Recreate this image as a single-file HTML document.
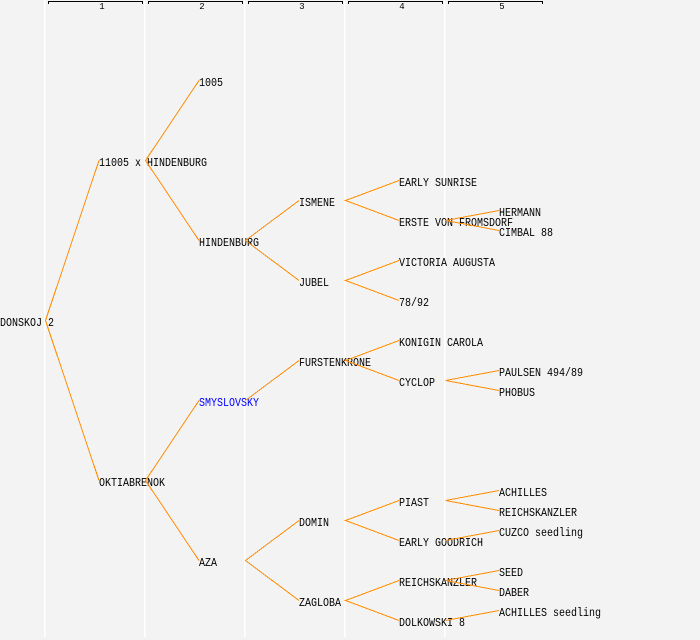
<!DOCTYPE html>
<html>
<head>
<meta charset="utf-8">
<style>
  html,body{margin:0;padding:0;background:#f3f3f3;}
  svg{display:block;}
  text{font-family:"Liberation Mono",monospace;}
</style>
</head>
<body>
<svg width="700" height="640" viewBox="0 0 700 640" xmlns="http://www.w3.org/2000/svg">
  <rect x="0" y="0" width="700" height="640" fill="#f3f3f3"/>
  <!-- column separators -->
  <g fill="#ffffff">
    <rect x="44" y="0" width="1.5" height="637"/>
    <rect x="144" y="0" width="1.5" height="637"/>
    <rect x="244" y="0" width="1.5" height="637"/>
    <rect x="344" y="0" width="1.5" height="637"/>
    <rect x="444" y="0" width="1.5" height="637"/>
  </g>
  <!-- header brackets -->
  <g fill="#000">
    <rect x="48" y="1" width="95" height="1"/><rect x="48" y="1" width="1" height="3"/><rect x="142" y="1" width="1" height="3"/>
    <rect x="148" y="1" width="95" height="1"/><rect x="148" y="1" width="1" height="3"/><rect x="242" y="1" width="1" height="3"/>
    <rect x="248" y="1" width="95" height="1"/><rect x="248" y="1" width="1" height="3"/><rect x="342" y="1" width="1" height="3"/>
    <rect x="348" y="1" width="95" height="1"/><rect x="348" y="1" width="1" height="3"/><rect x="442" y="1" width="1" height="3"/>
    <rect x="448" y="1" width="95" height="1"/><rect x="448" y="1" width="1" height="3"/><rect x="542" y="1" width="1" height="3"/>
  </g>
  <g font-size="9" fill="#000" text-anchor="middle">
    <text x="102" y="9">1</text>
    <text x="202" y="9">2</text>
    <text x="302" y="9">3</text>
    <text x="402" y="9">4</text>
    <text x="502" y="9">5</text>
  </g>

  <!-- labels -->
  <g font-size="12" fill="#000">
    <text x="0" y="326" textLength="54" lengthAdjust="spacingAndGlyphs">DONSKOJ 2</text>
    <text x="99" y="166" textLength="108" lengthAdjust="spacingAndGlyphs">11005 x HINDENBURG</text>
    <text x="99" y="486" textLength="66" lengthAdjust="spacingAndGlyphs">OKTIABRENOK</text>
    <text x="199" y="86" textLength="24" lengthAdjust="spacingAndGlyphs">1005</text>
    <text x="199" y="246" textLength="60" lengthAdjust="spacingAndGlyphs">HINDENBURG</text>
    <text x="199" y="406" textLength="60" lengthAdjust="spacingAndGlyphs" fill="#0000ff">SMYSLOVSKY</text>
    <text x="199" y="566" textLength="18" lengthAdjust="spacingAndGlyphs">AZA</text>
    <text x="299" y="206" textLength="36" lengthAdjust="spacingAndGlyphs">ISMENE</text>
    <text x="299" y="286" textLength="30" lengthAdjust="spacingAndGlyphs">JUBEL</text>
    <text x="299" y="366" textLength="72" lengthAdjust="spacingAndGlyphs">FURSTENKRONE</text>
    <text x="299" y="526" textLength="30" lengthAdjust="spacingAndGlyphs">DOMIN</text>
    <text x="299" y="606" textLength="42" lengthAdjust="spacingAndGlyphs">ZAGLOBA</text>
    <text x="399" y="186" textLength="78" lengthAdjust="spacingAndGlyphs">EARLY SUNRISE</text>
    <text x="399" y="226" textLength="114" lengthAdjust="spacingAndGlyphs">ERSTE VON FROMSDORF</text>
    <text x="399" y="266" textLength="96" lengthAdjust="spacingAndGlyphs">VICTORIA AUGUSTA</text>
    <text x="399" y="306" textLength="30" lengthAdjust="spacingAndGlyphs">78/92</text>
    <text x="399" y="346" textLength="84" lengthAdjust="spacingAndGlyphs">KONIGIN CAROLA</text>
    <text x="399" y="386" textLength="36" lengthAdjust="spacingAndGlyphs">CYCLOP</text>
    <text x="399" y="506" textLength="30" lengthAdjust="spacingAndGlyphs">PIAST</text>
    <text x="399" y="546" textLength="84" lengthAdjust="spacingAndGlyphs">EARLY GOODRICH</text>
    <text x="399" y="586" textLength="78" lengthAdjust="spacingAndGlyphs">REICHSKANZLER</text>
    <text x="399" y="626" textLength="66" lengthAdjust="spacingAndGlyphs">DOLKOWSKI 8</text>
    <text x="499" y="216" textLength="42" lengthAdjust="spacingAndGlyphs">HERMANN</text>
    <text x="499" y="236" textLength="54" lengthAdjust="spacingAndGlyphs">CIMBAL 88</text>
    <text x="499" y="376" textLength="84" lengthAdjust="spacingAndGlyphs">PAULSEN 494/89</text>
    <text x="499" y="396" textLength="36" lengthAdjust="spacingAndGlyphs">PHOBUS</text>
    <text x="499" y="496" textLength="48" lengthAdjust="spacingAndGlyphs">ACHILLES</text>
    <text x="499" y="516" textLength="78" lengthAdjust="spacingAndGlyphs">REICHSKANZLER</text>
    <text x="499" y="536" textLength="84" lengthAdjust="spacingAndGlyphs">CUZCO seedling</text>
    <text x="499" y="576" textLength="24" lengthAdjust="spacingAndGlyphs">SEED</text>
    <text x="499" y="596" textLength="30" lengthAdjust="spacingAndGlyphs">DABER</text>
    <text x="499" y="616" textLength="102" lengthAdjust="spacingAndGlyphs">ACHILLES seedling</text>
  </g>

  <!-- edges -->
  <g stroke="#ff8c00" stroke-width="1" fill="none" shape-rendering="crispEdges">
    <polyline points="99,160.5 45.5,320.5 99,480.5"/>
    <polyline points="199,80.5 145.5,160.5 199,240.5"/>
    <polyline points="299,200.5 245.5,240.5 299,280.5"/>
    <polyline points="399,180.5 345.5,200.5 399,220.5"/>
    <polyline points="499,210.5 445.5,220.5 499,230.5"/>
    <polyline points="399,260.5 345.5,280.5 399,300.5"/>
    <polyline points="199,400.5 145.5,480.5 199,560.5"/>
    <polyline points="245.5,400.5 299,360.5"/>
    <polyline points="399,340.5 345.5,360.5 399,380.5"/>
    <polyline points="499,370.5 445.5,380.5 499,390.5"/>
    <polyline points="299,520.5 245.5,560.5 299,600.5"/>
    <polyline points="399,500.5 345.5,520.5 399,540.5"/>
    <polyline points="499,490.5 445.5,500.5 499,510.5"/>
    <polyline points="445.5,540.5 499,530.5"/>
    <polyline points="399,580.5 345.5,600.5 399,620.5"/>
    <polyline points="499,570.5 445.5,580.5 499,590.5"/>
    <polyline points="445.5,620.5 499,610.5"/>
  </g>
</svg>
</body>
</html>
